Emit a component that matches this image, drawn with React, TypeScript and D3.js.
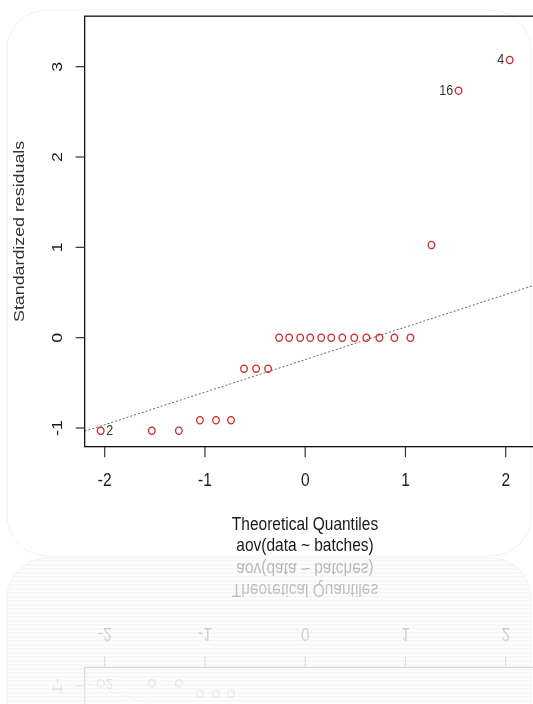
import React from "react";
import * as d3 from "d3";

const W = 533;
const H = 704;

// normal Q-Q plot of aov(data ~ batches)
const theoQ = [
  -2.04, -1.53, -1.26, -1.05, -0.89, -0.74, -0.61, -0.49, -0.37, -0.26, -0.16, -0.05,
  0.05, 0.16, 0.26, 0.37, 0.49, 0.61, 0.74, 0.89, 1.05, 1.26, 1.53, 2.04,
];
const stdResid = [
  -1.03, -1.03, -1.03, -0.915, -0.915, -0.915, -0.343, -0.343, -0.343, 0, 0, 0,
  0, 0, 0, 0, 0, 0, 0, 0, 0, 1.027, 2.735, 3.075,
];
const labelIdx = [0, 22, 23];
const labelText = ["2", "16", "4"];
const xTicks = [-2, -1, 0, 1, 2];
const yTicks = [-1, 0, 1, 2, 3];
const xTitle = "Theoretical Quantiles";
const subTitle = "aov(data ~ batches)";
const yTitle = "Standardized residuals";

const xLim = [-2.2, 2.4];
const yLim = [-1.2065, 3.5595];
const QN = 0.6745; // qnorm(0.75)

const FONT = "'Liberation Sans', Arial, sans-serif";
const SY = 1.15; // picture is stretched a bit vertically
const MIRROR = 557;

const x = d3.scaleLinear().domain([-2, 2]).range([104.7, 505.7]);
const y = d3.scaleLinear().domain([-1, 3]).range([428, 66.7]);

// qqline through the quartiles
const sorted = [...stdResid].sort(d3.ascending);
const q1 = d3.quantile(sorted, 0.25) as number;
const q3 = d3.quantile(sorted, 0.75) as number;
const slope = (q3 - q1) / (2 * QN);
const icept = q1 + slope * QN;

const T = (tx: number, ty: number, extra = "") => `translate(${tx},${ty}) scale(1,${SY})${extra}`;

function Plot({ id, refl = false }: { id: string; refl?: boolean }) {
  const left = x(xLim[0]);
  const right = x(xLim[1]);
  const top = y(yLim[1]);
  const bottom = y(yLim[0]);
  // in the reflection, texts that land below the page are left out
  const shows = (ty: number, half = 10) => !refl || 2 * MIRROR - ty + half < H;
  const line = d3.line<number>()
    .x((d) => x(d))
    .y((d) => y(icept + slope * d));
  return (
    <g fontFamily={FONT}>
      <defs>
        <clipPath id={`box-${id}`}>
          <rect x={left} y={top} width={right - left} height={bottom - top} />
        </clipPath>
      </defs>
      <path
        d={line([xLim[0], xLim[1]]) || ""}
        fill="none"
        stroke="#666"
        strokeWidth={1}
        strokeDasharray="2,2"
        clipPath={`url(#box-${id})`}
      />
      {theoQ.map((q, i) => (
        <ellipse key={i} cx={x(q)} cy={y(stdResid[i])} rx={3.3} ry={3.6}
          fill="none" stroke="#cc2529" strokeWidth={1.3} />
      ))}
      {labelIdx.map((idx, k) => {
        const onRight = k === 0;
        const ly = y(stdResid[idx]);
        if (!shows(ly, 8)) return null;
        return (
          <text key={k}
            transform={T(x(theoQ[idx]) + (onRight ? 5.5 : -5.5), ly + 4.5)}
            textAnchor={onRight ? "start" : "end"} fontSize={12.5} fill="#333">
            {labelText[k]}
          </text>
        );
      })}
      <rect x={left} y={top} width={right - left} height={bottom - top}
        fill="none" stroke="#111" strokeWidth={1.3} />
      {xTicks.map((t) => (
        <g key={t}>
          <line x1={x(t)} x2={x(t)} y1={bottom} y2={bottom + 10.5} stroke="#333" strokeWidth={1.2} />
          <text transform={T(x(t), 486)} textAnchor="middle" fontSize={15.5} fill="#1a1a1a">{t}</text>
        </g>
      ))}
      {yTicks.map((t) => (
        <g key={t}>
          <line x1={left - 9} x2={left} y1={y(t)} y2={y(t)} stroke="#333" strokeWidth={1.2} />
          {shows(y(t), 12) && (
            <text transform={T(62, y(t), " rotate(-90)")} textAnchor="middle" fontSize={15.5} fill="#1a1a1a">{t}</text>
          )}
        </g>
      ))}
      <text transform={T(305, 530)} textAnchor="middle" fontSize={15.5} fill="#1a1a1a">{xTitle}</text>
      <text transform={T(305, 551)} textAnchor="middle" fontSize={15.5} fill="#1a1a1a">{subTitle}</text>
      {shows((top + bottom) / 2, 95) && (
        <text transform={T(23.5, (top + bottom) / 2, " rotate(-90)")} textAnchor="middle" fontSize={15.5} fill="#333">
          {yTitle}
        </text>
      )}
    </g>
  );
}

export default function App() {
  return (
    <svg width={W} height={H} style={{ position: "absolute", left: 0, top: 0, background: "#fff" }}>
      <defs>
        <pattern id="stripes" width={4} height={4} patternUnits="userSpaceOnUse">
          <rect width={4} height={4} fill="#fdfdfd" />
          <rect y={0} width={4} height={1.5} fill="#f6f6f6" />
        </pattern>
        <linearGradient id="fade" x1="0" y1={MIRROR} x2="0" y2={H} gradientUnits="userSpaceOnUse">
          <stop offset="0" stopColor="#fff" stopOpacity={0.32} />
          <stop offset="1" stopColor="#fff" stopOpacity={0.08} />
        </linearGradient>
        <mask id="reflMask" maskUnits="userSpaceOnUse" x={0} y={0} width={W} height={H}>
          <rect x={0} y={MIRROR} width={W} height={H - MIRROR} fill="url(#fade)" />
        </mask>
      </defs>
      {/* reflection card */}
      <rect x={7} y={558} width={524} height={220} rx={40} fill="url(#stripes)" stroke="#f3f3f3" />
      <g mask="url(#reflMask)">
        <g transform={`translate(0,${2 * MIRROR}) scale(1,-1)`}>
          <Plot id="refl" refl />
        </g>
      </g>
      {/* main card */}
      <rect x={7} y={10} width={524} height={546} rx={40} fill="#fff" stroke="#f2f2f2" />
      <Plot id="main" />
    </svg>
  );
}
